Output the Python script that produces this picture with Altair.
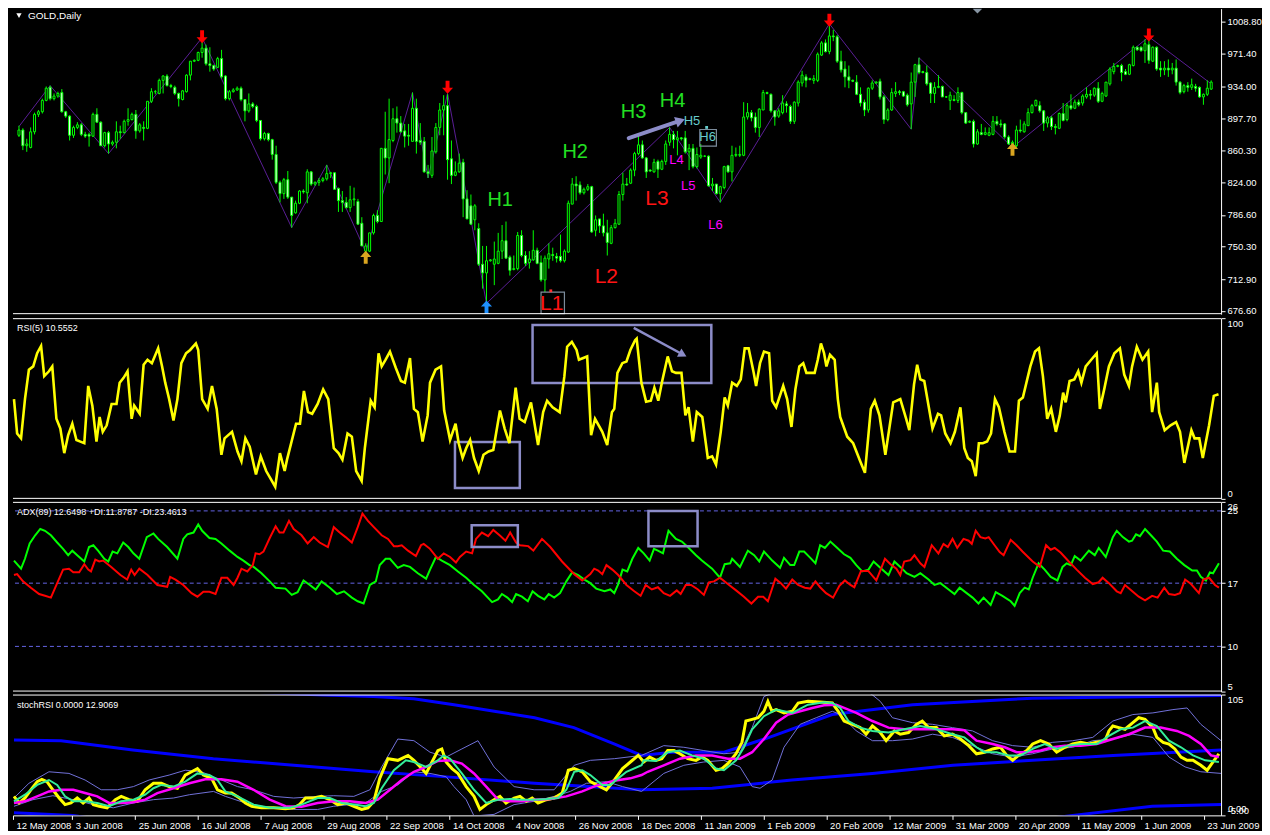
import altair as alt
import pandas as pd

# ---------------- labels / ticks ----------------
date_labels = ["12 May 2008", "3 Jun 2008", "25 Jun 2008", "16 Jul 2008", "7 Aug 2008",
               "29 Aug 2008", "22 Sep 2008", "14 Oct 2008", "4 Nov 2008", "26 Nov 2008",
               "18 Dec 2008", "11 Jan 2009", "1 Feb 2009", "20 Feb 2009", "12 Mar 2009",
               "31 Mar 2009", "20 Apr 2009", "11 May 2009", "1 Jun 2009", "23 Jun 2009"]
date_tick_bars = [-0.25, 14.85, 30.85, 46.85, 62.85, 78.85, 94.85, 110.85, 126.85, 142.85,
                  158.85, 174.85, 190.85, 206.85, 222.85, 238.85, 254.85, 270.85, 286.85, 302.85]
price_ticks = [676.6, 712.9, 750.3, 786.6, 824.0, 860.3, 897.7, 934.0, 971.4, 1008.8]
rsi_ticks = [0, 100]
adx_ticks = [5, 10, 17, 25, 26]
adx_levels = [25, 17, 10]
stoch_ticks = [-5, 105]

# ---------------- GOLD daily candles ----------------
O = [878,884,866,864,882,902,905,918,933,920,
     923,927,905,900,878,887,890,879,879,877,
     902,893,866,881,868,870,882,881,894,896,
     902,883,887,886,917,928,926,941,946,935,
     933,926,919,928,947,963,964,973,978,960,
     958,956,966,946,920,928,930,932,919,906,
     914,911,895,874,880,873,856,824,811,827,
     807,789,800,814,812,836,822,824,826,828,
     834,835,817,803,801,795,804,802,777,745,
     745,766,786,779,863,852,872,897,892,883,
     878,871,909,872,871,836,832,859,887,907,
     912,851,832,836,847,805,797,781,771,730,
     720,734,730,731,745,757,738,724,725,763,
     740,732,735,746,732,712,736,741,739,739,
     734,744,799,822,821,812,816,819,769,782,
     774,766,754,772,776,810,822,823,838,857,
     867,852,838,836,848,839,848,870,879,873,
     875,875,859,863,842,853,854,854,820,822,
     811,818,843,836,855,855,855,899,904,899,
     887,907,927,925,906,900,904,914,911,894,
     915,938,945,942,941,941,970,984,974,992,
     991,963,954,945,941,939,925,916,907,932,
     938,940,922,896,907,926,928,928,924,914,
     939,959,951,950,938,926,933,934,922,918,
     919,918,927,904,893,894,868,881,879,878,
     879,894,891,891,876,868,866,884,882,889,
     904,912,912,906,892,898,888,886,903,896,
     912,909,916,915,922,925,924,932,917,923,
     937,951,957,958,951,948,958,979,979,975,
     982,963,979,955,953,955,953,955,939,928,
     935,933,934,933,922,925,931]
H = [889,886,874,887,904,907,920,934,935,926,
     928,931,906,901,889,893,892,882,881,904,
     909,894,882,883,872,894,889,896,909,904,
     907,892,894,917,932,930,943,947,948,937,
     935,927,930,948,963,965,974,990,982,979,
     959,968,976,947,930,932,934,934,919,926,
     916,913,895,882,881,874,866,826,829,837,
     807,803,815,816,839,837,825,829,830,844,
     836,835,818,814,807,820,818,805,784,754,
     766,788,792,863,905,920,909,911,900,891,
     891,927,920,892,876,844,876,892,915,924,
     925,872,848,857,851,815,810,799,777,751,
     751,736,756,766,775,779,740,740,767,769,
     745,745,769,749,740,740,754,749,743,764,
     747,803,829,831,825,818,822,820,786,782,
     788,781,775,782,814,835,829,840,859,878,
     872,853,839,851,850,850,872,887,883,883,
     876,883,868,868,864,868,855,855,829,822,
     820,843,844,866,864,866,916,915,907,904,
     909,930,928,926,907,909,924,917,913,917,
     941,952,948,944,947,973,986,988,1006,999,
     993,975,963,958,942,947,933,919,933,941,
     940,943,924,909,932,939,930,929,926,950,
     960,967,952,958,939,939,947,935,923,928,
     924,933,928,904,895,896,885,891,887,887,
     900,900,896,892,878,872,889,896,894,909,
     914,919,917,907,900,900,891,904,915,915,
     925,919,919,925,933,930,933,939,928,939,
     956,961,959,960,954,960,981,980,980,988,
     991,980,980,963,963,965,961,965,940,937,
     939,943,937,934,926,941,941]
L = [876,861,859,863,879,899,903,917,918,918,
     921,904,898,872,875,885,877,875,865,876,
     892,866,864,857,866,863,874,880,889,895,
     874,881,872,885,915,925,925,926,934,932,
     924,911,918,927,941,962,963,967,958,951,
     952,955,943,918,918,927,929,917,894,904,
     909,893,872,872,871,850,822,801,805,805,
     772,788,799,811,800,820,820,820,824,826,
     829,816,790,790,794,790,797,775,751,744,
     744,764,777,779,833,823,870,881,881,864,
     866,871,857,867,835,829,829,857,878,878,
     827,822,831,835,784,782,775,769,728,702,
     685,733,706,730,736,736,717,723,723,738,
     728,725,734,730,710,698,725,734,732,732,
     732,743,799,803,810,810,814,766,762,766,
     762,740,753,771,775,803,820,822,831,855,
     851,829,836,835,829,838,844,866,863,855,
     872,857,838,840,840,851,853,819,814,810,
     801,816,835,825,853,853,854,896,894,881,
     876,907,925,904,889,898,902,904,891,891,
     911,934,933,941,937,939,969,973,971,986,
     961,950,933,932,939,924,911,900,904,930,
     937,919,891,894,906,922,924,922,911,885,
     922,948,949,935,915,915,932,922,921,907,
     917,915,902,891,892,864,867,878,878,877,
     878,889,887,874,867,864,864,881,881,889,
     903,911,904,883,887,884,879,885,894,894,
     907,908,911,912,920,919,922,915,916,922,
     935,948,956,940,947,947,957,975,974,961,
     960,962,952,945,947,945,948,935,925,926,
     928,930,928,921,913,923,930]
C = [884,866,868,882,902,905,918,932,920,923,
     926,905,900,878,887,890,879,877,877,902,
     893,866,881,868,870,882,881,894,896,902,
     883,890,886,917,928,928,941,946,935,934,
     926,920,929,947,963,964,973,978,960,958,
     954,966,945,920,928,930,932,919,906,914,
     911,895,874,880,873,856,824,811,827,807,
     786,800,814,813,836,822,824,826,828,834,
     835,816,803,801,795,804,805,776,751,751,
     766,786,779,863,852,873,897,892,882,877,
     877,909,871,870,836,834,860,887,907,912,
     850,832,836,846,805,782,776,797,730,720,
     734,735,736,745,757,737,723,725,763,740,
     731,736,746,731,712,737,742,740,737,734,
     745,800,822,820,812,816,819,767,781,774,
     766,755,772,777,810,822,821,838,857,867,
     852,836,837,847,839,848,868,879,873,875,
     874,859,863,842,856,855,854,820,822,811,
     819,842,836,855,856,856,899,904,898,887,
     908,927,926,906,899,906,915,912,894,916,
     939,947,941,943,943,971,984,974,992,991,
     963,953,945,941,940,925,915,907,932,938,
     939,922,896,907,927,928,927,923,913,939,
     959,950,950,937,926,933,934,922,922,924,
     918,927,904,892,894,868,882,879,881,881,
     894,891,890,876,868,870,884,883,891,904,
     912,918,906,892,898,888,887,903,895,912,
     909,916,913,923,925,924,932,917,926,939,
     954,957,958,950,948,959,979,976,975,983,
     964,979,954,953,955,953,955,939,927,935,
     933,936,932,922,925,932,939]

# zigzag swing points
zz_bar = [0, 8, 23, 47, 70, 79, 89, 101, 105, 110, 120, 167, 180, 208, 229, 231, 255, 290, 306]
zz_price = [888, 935, 857, 990, 772, 844, 744, 927, 829, 926, 685, 887, 801, 1006, 885, 967, 864, 991, 937]

# signal arrows
arr_bar = [47, 110, 208, 290, 89, 255, 120]
arr_price = [991, 933, 1010, 993, 738, 862, 681]
arr_dir = ["down", "down", "down", "down", "up", "up", "up"]
arr_color = ["#FF0000", "#FF0000", "#FF0000", "#FF0000", "#DAA520", "#DAA520", "#1E90FF"]

# text annotations
ann_text = ["H1", "H2", "H3", "H4", "L1", "L2", "L3", "H5", "H6", "L4", "L5", "L6"]
ann_bar = [123.5, 142.75, 157.75, 167.75, 136.75, 150.75, 163.75, 172.75, 176.75, 168.75, 171.75, 178.75]
ann_price = [804.1, 858.9, 904.8, 917.1, 684.4, 715.8, 805.2, 894.7, 875.7, 850.0, 819.8, 775.0]
ann_color = ["#22E022"] * 4 + ["#FF1414"] * 3 + ["#66CCCC"] * 2 + ["#FF00FF"] * 3
ann_size = [20, 20, 20, 20, 21, 21, 21, 13, 13, 13, 13, 13]

# RSI(5)
rsi_bar = [0, 0.8, 1.8, 2.8, 3.8, 4.9, 5.9, 6.9, 7.7, 8.9, 9.75, 10.8, 11.8, 12.8, 13.8, 14.85, 15.9, 16.9,
           17.9, 18.9, 19.95, 21.0, 21.8, 22.6, 23.6, 24.85, 26.1, 26.9, 27.9, 28.9, 29.95, 30.6, 32.0, 33.0,
           34.0, 35.1, 36.7, 37.7, 38.5, 39.5, 40.6, 41.6, 42.6, 43.8, 44.85, 46.3, 46.9, 47.9, 49.3, 50.4,
           51.6, 52.8, 53.6, 55.5, 56.9, 57.9, 58.9, 60.0, 61.6, 62.8, 64.2, 66.5, 67.7, 68.9, 69.5, 71.8,
           72.8, 73.8, 74.85, 75.9, 77.3, 78.7, 80.0, 81.4, 82.6, 83.6, 84.9, 86.0, 87.1, 88.5, 89.3, 90.8,
           91.8, 92.8, 93.6, 94.6, 95.7, 97.2, 98.5, 99.5, 100.8, 101.8, 102.8, 104.0, 105.3, 105.9, 107.3,
           108.7, 109.5, 111.0, 112.4, 113.2, 114.2, 115.1, 116.1, 117.1, 118.3, 119.5, 120.8, 122.0, 123.7,
           124.9, 126.1, 127.7, 128.7, 130.0, 131.6, 133.4, 134.7, 135.7, 137.1, 138.9, 140.1, 140.8, 142.0,
           143.2, 143.8, 145.9, 146.9, 147.9, 149.75, 151.0, 152.2, 152.8, 153.6, 154.85, 155.9, 156.9,
           158.1, 158.5, 159.7, 160.9, 162.1, 163.0, 164.0, 165.0, 166.4, 167.5, 168.5, 169.9, 170.9, 171.7,
           172.8, 173.8, 175.2, 176.6, 177.7, 178.7, 179.9, 180.9, 181.7, 182.8, 184.0, 185.0, 186.0, 187.0,
           188.3, 188.9, 189.9, 190.9, 192.2, 193.0, 194.0, 195.8, 196.8, 197.9, 198.9, 199.9, 200.9, 201.7,
           203.8, 204.6, 205.4, 206.2, 206.8, 207.7, 208.9, 209.7, 210.3, 212.1, 213.6, 215.4, 216.6, 218.1,
           219.1, 220.3, 221.8, 223.8, 225.6, 227.1, 227.9, 229.1, 229.9, 230.7, 231.7, 233.8, 235.2, 236.0,
           237.05, 238.4, 239.5, 240.9, 241.9, 242.8, 243.8, 244.8, 245.6, 246.6, 247.7, 248.7, 249.7, 250.7,
           252.1, 253.4, 254.8, 255.8, 256.8, 258.7, 259.9, 260.9, 261.9, 263.0, 264.0, 265.2, 266.2, 267.05,
           267.7, 268.7, 269.9, 270.9, 271.7, 272.8, 274.2, 275.6, 276.4, 277.5, 278.7, 280.1, 281.5, 282.6,
           283.8, 284.6, 285.8, 287.25, 288.7, 289.7, 290.9, 291.5, 292.9, 294.4, 295.8, 296.8, 297.9, 299.7,
           300.5, 301.7, 302.6, 304.2, 305.4, 306.6]
rsi_val = [55.2, 36.2, 33.5, 55.2, 71.5, 73.3, 80.6, 84.6, 67.9, 70.6, 73.3, 44.3, 38.9, 25.3, 35.3, 41.6, 32.6, 31.7,
           30.8, 62.5, 51.6, 31.7, 45.3, 37.1, 40.7, 52.5, 52.5, 64.3, 67.0, 70.6, 44.3, 51.6, 47.1, 74.2,
           77.0, 75.1, 83.3, 73.3, 64.3, 55.2, 43.4, 55.2, 75.1, 80.6, 82.4, 86.0, 82.4, 55.2, 49.8, 62.5,
           49.8, 24.4, 33.5, 37.1, 26.2, 20.8, 33.5, 28.9, 13.5, 23.5, 15.4, 6.7, 25.3, 15.4, 21.7, 41.6,
           41.6, 59.7, 48.0, 47.1, 52.5, 60.6, 55.2, 28.0, 25.3, 21.7, 36.2, 34.4, 15.4, 9.9, 28.0, 54.3,
           50.7, 80.6, 73.3, 77.0, 81.5, 72.4, 65.2, 64.3, 77.9, 49.8, 48.0, 31.7, 46.2, 64.3, 71.5,
           73.3, 48.9, 32.6, 41.6, 30.8, 22.6, 28.0, 32.6, 22.6, 15.4, 24.4, 26.2, 27.1, 48.9,
           38.9, 30.8, 61.5, 44.3, 42.5, 53.4, 29.8, 48.0, 54.3, 50.7, 48.0, 67.9, 84.2, 86.9,
           82.4, 77.0, 78.8, 35.3, 44.3, 37.1, 29.8, 48.0, 49.8, 69.7, 75.1, 76.0, 82.4,
           87.8, 88.7, 64.3, 53.8, 54.3, 61.5, 54.3, 65.2, 78.8, 70.6, 69.7, 69.7, 46.2, 50.7,
           31.7, 48.0, 45.3, 22.6, 23.5, 19.0, 37.1, 56.1, 51.6, 64.3, 62.5, 66.1, 83.3, 83.3,
           69.7, 62.5, 75.1, 81.5, 80.6, 54.3, 50.7, 62.5, 55.2, 39.8, 60.6, 73.3, 75.1, 69.7,
           69.7, 77.0, 86.0, 80.6, 73.3, 79.7, 77.0, 55.2, 45.3, 34.4, 30.8, 20.8, 14.4, 49.8,
           54.3, 46.2, 24.4, 53.4, 55.2, 44.3, 38.0, 63.4, 74.2, 66.1, 65.2, 38.9, 47.1, 46.2,
           36.2, 30.8, 37.1, 50.7, 28.0, 22.6, 20.8, 12.6, 30.8, 30.8, 31.7, 36.2, 55.2, 50.7,
           37.1, 26.2, 26.2, 54.3, 56.1, 73.3, 81.5, 83.3, 67.9, 44.3, 49.8, 37.1, 46.2, 58.8,
           53.4, 65.2, 66.1, 70.6, 64.3, 73.3, 77.0, 80.6, 49.8, 60.6, 73.3, 80.6, 83.3, 68.8,
           62.5, 73.3, 84.2, 77.0, 81.5, 48.0, 64.3, 48.0, 38.0, 40.7, 42.5, 37.1, 19.9, 38.0,
           33.5, 33.5, 22.6, 40.7, 57.0, 57.9]

# ADX(89) +DI (green) and -DI (red)
pdi_bar = [0, 1.8, 2.8, 4.0, 5.4, 6.7, 7.9, 9.4, 11.0, 12.5, 13.8, 14.85, 16.1, 17.9, 19.1, 20.2, 21.4, 23.0,
           24.0, 25.1, 26.3, 27.8, 29.1, 30.4, 31.9, 33.8, 35.5, 36.7, 39.0, 41.6, 43.1, 44.1, 45.7, 46.9,
           47.9, 49.75, 51.3, 52.8, 54.9, 56.9, 58.4, 59.95, 61.0, 63.0, 65.1, 66.6, 69.1, 70.7, 72.2, 73.7,
           75.3, 76.8, 78.3, 80.4, 82.2, 84.0, 86.0, 87.5, 89.0, 90.6, 92.1, 93.1, 94.6, 95.7, 97.7, 99.2,
           100.8, 102.8, 104.9, 105.9, 107.4, 108.9, 111.0, 113.0, 115.1, 117.1, 119.1, 121.7, 123.2, 124.2,
           125.6, 126.8, 127.8, 129.3, 130.8, 132.0, 133.4, 135.0, 136.1, 137.5, 139.0, 140.6, 142.1, 143.6,
           145.2, 146.7, 148.2, 150.3, 151.8, 152.8, 153.8, 154.9, 156.1, 157.4, 158.9, 160.3, 161.8, 162.9,
           163.9, 165.2, 166.6, 168.5, 170.0, 171.5, 173.6, 175.1, 177.7, 179.7, 180.9, 182.3, 182.8, 184.8,
           186.8, 188.4, 189.7, 190.9, 193.0, 195.0, 196.0, 197.6, 198.6, 199.9, 201.1, 202.7, 204.0, 205.2,
           206.4, 207.8, 209.3, 211.3, 212.9, 214.4, 215.9, 217.5, 218.8, 220.5, 222.6, 224.1, 225.6, 227.2,
           229.2, 230.7, 232.8, 234.3, 235.8, 237.9, 239.4, 240.7, 242.5, 244.0, 245.5, 246.8, 248.6, 249.9,
           251.6, 253.7, 254.7, 256.0, 257.25, 258.3, 259.3, 260.8, 262.35, 263.9, 265.6, 266.9, 267.95,
           269.0, 270.0, 271.5, 273.6, 275.1, 276.1, 277.9, 279.7, 280.7, 282.25, 283.8, 284.6, 285.6, 286.6,
           287.9, 289.4, 290.9, 292.5, 294.2, 296.0, 297.9, 299.9, 301.1, 302.1, 303.4, 304.4, 305.2, 306.7]
pdi_val = [19.5, 18.6, 19.7, 21.4, 22.3, 23.0, 22.8, 22.3, 21.5, 20.8, 20.1, 20.6, 20.1, 19.4, 21.0, 21.2, 20.6, 19.7,
           19.4, 20.5, 20.3, 21.5, 21.0, 20.3, 19.7, 22.1, 22.5, 21.9, 21.0, 19.7, 21.9, 22.4, 22.6, 23.5,
           22.8, 22.0, 21.9, 21.4, 20.6, 19.9, 19.5, 19.0, 18.8, 18.1, 17.2, 16.5, 16.4, 15.7, 16.0, 17.3,
           16.8, 16.3, 17.2, 16.5, 15.8, 16.1, 15.4, 15.0, 14.75, 16.8, 17.2, 19.0, 19.7, 19.7, 18.7, 19.0,
           18.8, 18.1, 17.5, 18.5, 19.9, 19.5, 19.0, 18.3, 17.6, 16.8, 16.1, 14.9, 15.2, 15.8,
           15.4, 14.9, 15.8, 15.5, 15.0, 16.1, 15.6, 15.2, 15.8, 15.4, 15.9, 17.2, 18.2, 17.9,
           17.4, 17.0, 16.4, 16.1, 16.3, 15.9, 16.9, 18.5, 18.3, 19.7, 20.9, 20.3, 19.5, 20.8,
           20.6, 20.3, 22.8, 21.9, 21.6, 21.0, 20.1, 19.5, 18.6, 17.6, 19.1, 19.2, 19.7, 18.8,
           20.6, 20.1, 19.4, 20.5, 19.5, 18.7, 19.8, 19.0, 19.0, 20.5, 20.5, 19.8, 19.2, 21.2,
           20.9, 21.6, 21.0, 20.2, 19.8, 19.0, 18.3, 18.5, 19.4, 18.7, 17.9, 19.4, 18.8, 18.1,
           17.7, 18.1, 17.4, 16.8, 17.0, 16.3, 15.8, 16.5, 15.9, 15.4, 14.75, 15.4, 14.6, 16.0,
           15.6, 15.0, 14.5, 15.9, 16.5, 16.3, 17.6, 19.2, 18.5, 17.7, 17.3, 18.8, 19.2,
           19.0, 20.0, 19.5, 20.6, 20.1, 20.9, 19.9, 22.1, 22.8, 22.1, 21.6, 21.7, 22.4, 22.2,
           23.0, 22.3, 21.6, 20.6, 20.5, 19.7, 19.0, 18.4, 18.4, 17.7, 17.3, 18.2, 18.1, 19.2]
mdi_bar = [0, 0.8, 2.3, 4.3, 6.4, 7.9, 9.4, 11.0, 12.5, 14.0, 15.1, 16.6, 17.9, 18.9, 19.6, 20.7, 21.7, 22.7,
           24.75, 27.1, 28.8, 29.85, 30.7, 31.9, 34.0, 36.5, 39.0, 39.75, 41.1, 43.1, 45.2, 46.7, 48.2, 49.75,
           51.3, 52.8, 54.3, 55.9, 56.9, 57.9, 59.4, 60.8, 61.5, 62.5, 63.5, 65.1, 66.6, 67.6, 68.6, 70.0,
           71.2, 73.2, 74.75, 76.3, 77.8, 79.9, 81.4, 82.9, 84.4, 86.0, 87.5, 88.7, 90.1, 91.6, 93.6, 95.2,
           96.7, 97.7, 98.7, 100.3, 102.3, 103.6, 104.3, 105.9, 107.9, 109.4, 111.0, 112.5, 113.5, 115.1,
           116.6, 117.6, 119.1, 120.7, 122.0, 123.75, 125.1, 126.3, 127.8, 128.8, 130.9, 132.2, 134.4, 136.5,
           139.5, 142.6, 144.65, 146.7, 147.7, 148.7, 149.75, 150.8, 152.3, 153.8, 155.9, 157.9, 159.5, 160.8,
           162.35, 163.9, 165.4, 167.0, 168.7, 169.7, 171.0, 172.35, 174.1, 175.6, 176.9, 178.2, 179.7, 181.7,
           183.8, 185.8, 187.7, 189.4, 190.7, 191.9, 193.8, 195.2, 196.5, 198.1, 199.6, 201.3, 202.7, 204.0,
           205.2, 206.7, 208.5, 210.1, 211.5, 212.9, 213.9, 215.6, 217.45, 219.5, 220.7, 221.7, 223.1, 224.6,
           225.6, 226.6, 228.2, 229.2, 230.7, 231.75, 233.6, 235.3, 236.6, 237.7, 238.9, 240.1, 241.7, 243.0,
           243.8, 244.8, 246.0, 247.25, 248.1, 249.6, 250.9, 251.9, 253.7, 255.2, 256.7, 259.3, 261.1, 262.7,
           263.9, 264.9, 266.4, 268.5, 270.5, 272.6, 274.6, 276.1, 277.1, 278.7, 280.7, 281.7, 282.8, 284.8,
           286.3, 287.9, 289.7, 291.1, 292.8, 294.0, 295.5, 296.8, 298.1, 299.6, 301.6, 302.7, 304.2, 305.7,
           306.7]
mdi_val = [17.9, 18.0, 17.2, 16.5, 15.8, 15.6, 15.4, 17.0, 18.5, 18.6, 18.2, 18.2, 19.1, 18.5, 18.3, 19.6, 19.4, 19.5,
           18.8, 17.9, 17.4, 18.5, 17.9, 18.6, 17.9, 16.8, 16.6, 17.7, 17.4, 16.8, 15.9, 15.5, 16.05, 16.05,
           15.8, 17.6, 17.6, 16.8, 17.6, 18.6, 18.3, 19.0, 20.3, 20.2, 20.5, 22.0, 23.3, 22.6, 22.6, 23.9,
           23.0, 22.3, 21.4, 22.1, 21.5, 21.0, 23.2, 22.6, 22.1, 21.5, 23.2, 24.7, 23.9, 23.2, 22.3, 21.9,
           21.1, 21.1, 21.2, 20.6, 20.0, 21.2, 21.35, 20.8, 19.7, 20.3, 19.9, 19.3, 19.9, 20.5,
           20.3, 21.9, 22.6, 22.2, 22.9, 22.25, 21.7, 22.6, 21.5, 21.2, 21.1, 20.6, 21.9, 21.0,
           19.4, 18.0, 17.3, 18.0, 18.6, 18.4, 18.0, 19.0, 18.5, 17.9, 16.8, 16.1, 15.6, 16.8,
           16.3, 16.55, 15.9, 15.6, 16.2, 15.8, 16.8, 16.8, 16.3, 15.7, 17.1, 17.2, 17.6, 16.9,
           16.2, 15.5, 14.75, 15.5, 15.5, 15.0, 17.5, 17.0, 16.4, 17.4, 16.8, 16.5, 16.4, 17.2,
           16.55, 15.9, 15.4, 16.7, 17.3, 16.8, 16.55, 18.35, 18.35, 17.3, 18.6, 19.7, 19.1, 18.6,
           17.9, 19.4, 19.55, 20.1, 19.2, 18.8, 21.2, 20.3, 21.35, 21.0, 21.9, 20.9, 21.9, 21.7,
           21.35, 22.8, 22.1, 21.96, 22.1, 21.2, 20.45, 20.1, 21.8, 21.2, 20.5, 19.4, 18.8, 21.2,
           20.7, 20.9, 20.4, 19.4, 18.5, 17.6, 16.9, 17.1, 17.6, 17.0, 16.1, 15.9, 16.8, 16.05,
           15.5, 15.1, 15.6, 15.4, 16.5, 15.8, 15.7, 15.9, 17.4, 16.9, 15.9, 17.4, 17.6, 16.8,
           16.5]

# stochRSI panel: K (yellow), signal (green), slow (magenta)
sk_bar = [0, 1.3, 2.8, 4.3, 5.9, 7.1, 8.4, 9.9, 11.5, 13.0, 14.5, 16.1, 17.6, 19.1, 20.2, 21.7, 23.7, 25.8, 27.3,
          29.3, 31.4, 33.4, 35.5, 37.5, 39.5, 41.6, 43.6, 45.2, 46.7, 48.2, 50.3, 51.8, 53.8, 55.4, 57.4, 58.9,
          60.5, 63.0, 66.1, 69.1, 71.2, 72.7, 74.2, 76.3, 78.3, 80.4, 82.4, 84.4, 86.5, 88.5, 90.1, 91.6, 93.1,
          95.2, 97.7, 100.3, 101.8, 103.8, 104.9, 106.4, 107.9, 108.9, 110.0, 111.5, 113.0, 115.1, 117.1,
          118.6, 120.2, 122.2, 123.7, 125.25, 127.3, 128.8, 130.4, 131.9, 133.4, 135.5, 137.5, 139.55, 141.1,
          142.6, 144.65, 146.7, 149.2, 150.8, 152.8, 154.9, 156.9, 158.9, 160.3, 161.8, 163.4, 164.9, 166.4,
          168.0, 169.5, 171.5, 173.6, 175.1, 176.6, 178.7, 180.2, 181.7, 183.8, 185.3, 186.3, 187.9, 189.4,
          190.9, 191.9, 192.95, 194.0, 196.0, 198.1, 199.6, 202.1, 205.2, 208.3, 209.8, 211.3, 213.4, 215.4,
          216.9, 218.5, 220.5, 222.0, 224.1, 225.6, 227.7, 229.7, 231.2, 232.8, 234.8, 236.8, 238.9, 240.9,
          243.0, 245.0, 247.05, 249.1, 251.1, 252.7, 254.2, 255.7, 257.8, 259.3, 261.3, 263.4, 265.4, 267.5,
          269.5, 271.5, 273.6, 275.6, 277.7, 278.7, 279.7, 281.25, 282.8, 284.8, 286.3, 287.9, 289.9, 290.9,
          292.5, 294.0, 295.5, 297.05, 298.6, 300.1, 302.1, 303.7, 305.2, 306.7]
sk_val = [12.3, 6.3, 10.8, 18.3, 25.7, 27.8, 25.7, 18.3, 10.8, 4.8, 6.3, 10.8, 6.3, 10.8, 4.8, 3.3, 1.9, 9.3, 12.3,
          9.3, 7.8, 18.3, 24.2, 24.2, 21.2, 19.7, 31.7, 34.7, 37.6, 31.7, 28.7, 18.3, 15.3, 15.3, 10.8, 6.3,
          3.3, 1.9, 1.9, 1.0, 1.9, 4.8, 10.8, 10.8, 12.3, 9.3, 4.8, 6.3, 3.3, 0.4, 1.9, 7.8, 28.7,
          46.6, 45.1, 49.6, 45.1, 37.6, 33.2, 43.6, 54.0, 55.5, 43.6, 37.6, 33.2, 21.2, 12.3,
          0.4, 4.8, 9.3, 12.3, 6.3, 10.8, 12.3, 7.8, 10.8, 6.3, 9.3, 10.8, 15.3, 36.1,
          37.6, 34.7, 25.7, 21.2, 18.3, 27.2, 37.6, 43.6, 49.6, 43.6, 48.1, 45.1, 46.6, 54.0,
          54.0, 51.1, 46.6, 45.1, 48.1, 45.1, 36.1, 37.6, 42.1, 51.1, 61.5, 80.9, 82.4, 83.9,
          89.8, 98.8, 89.8, 91.3, 88.3, 89.8, 97.3, 98.8, 98.2, 97.3, 89.8, 80.9, 77.9, 74.9,
          68.9, 76.4, 70.4, 63.0, 71.9, 68.9, 70.4, 77.9, 80.9, 74.9, 74.9, 67.4, 68.9, 64.5,
          58.5, 51.1, 52.5, 55.5, 57.0, 49.6, 45.1, 49.6, 54.0, 60.0, 63.0, 60.0, 52.5, 57.0,
          60.0, 61.5, 60.0, 61.5, 63.0, 71.9, 76.4, 74.9, 73.4, 79.4, 83.9, 82.4, 74.9, 66.0,
          61.5, 60.0, 55.5, 48.1, 45.1, 45.1, 40.6, 36.1, 43.6, 51.1]
sg_bar = [0, 2.8, 5.9, 8.9, 11.0, 13.0, 15.1, 18.1, 21.2, 24.2, 27.3, 30.4, 33.4, 35.5, 37.5, 40.6, 43.6, 46.7,
          49.75, 51.8, 53.8, 56.9, 61.0, 65.1, 70.2, 73.2, 77.3, 80.4, 83.4, 86.5, 89.5, 91.6, 93.6, 96.7,
          99.75, 101.8, 104.9, 107.9, 109.4, 111.0, 114.0, 117.1, 120.2, 123.2, 126.3, 129.3, 132.4, 135.5,
          138.5, 140.6, 142.6, 144.65, 146.7, 149.75, 151.8, 153.8, 155.9, 159.75, 160.3, 163.4, 166.4, 169.5,
          172.6, 175.6, 178.7, 180.7, 183.8, 185.8, 187.9, 190.9, 194.0, 198.1, 202.1, 206.2, 208.3, 210.3,
          212.4, 215.4, 218.5, 222.6, 226.6, 230.7, 234.8, 238.9, 241.9, 245.0, 247.05, 250.1, 253.2, 256.2,
          259.3, 262.35, 265.4, 268.5, 271.5, 275.6, 278.7, 281.7, 284.8, 287.9, 290.9, 294.0, 297.05, 300.1,
          303.2, 306.7]
sg_val = [7.8, 13.8, 22.7, 27.2, 22.7, 12.3, 7.8, 7.8, 6.3, 3.3, 7.8, 9.3, 13.8, 19.7, 22.7, 21.2, 25.7, 33.2,
          31.7, 27.2, 16.8, 12.3, 4.8, 1.9, 1.9, 4.8, 10.8, 10.8, 6.3, 4.8, 3.3, 6.3, 19.7, 36.1,
          45.1, 43.6, 39.1, 45.1, 49.6, 46.6, 33.2, 18.3, 6.3, 9.3, 9.9, 9.3, 9.3, 9.9,
          10.8, 18.3, 34.7, 36.1, 31.7, 22.7, 22.7, 28.7, 34.7, 40.6, 45.1, 44.5, 52.5, 54.0,
          49.6, 46.6, 37.6, 36.1, 45.1, 57.0, 73.4, 85.3, 91.3, 88.3, 95.8, 97.9, 97.3, 92.8,
          80.9, 74.9, 71.9, 70.4, 73.4, 76.4, 73.4, 68.9, 66.0, 57.0, 52.5, 52.5, 49.6, 49.6,
          55.5, 60.0, 55.5, 58.5, 60.0, 60.0, 67.4, 73.4, 74.9, 80.9, 76.4, 63.0, 57.0, 49.6,
          45.1, 43.6]
sm_bar = [0, 2.8, 5.9, 8.9, 12.0, 15.1, 18.1, 21.2, 24.2, 27.3, 30.4, 33.4, 36.5, 40.6, 44.65, 48.7, 52.8, 56.9,
          61.0, 65.1, 69.1, 73.2, 77.3, 81.4, 85.5, 89.5, 92.6, 95.7, 98.7, 101.8, 104.9, 107.9, 111.0, 114.0,
          117.1, 120.2, 123.2, 126.3, 129.3, 132.4, 136.5, 140.6, 144.65, 148.7, 152.8, 156.9, 159.75, 161.3,
          165.4, 169.5, 173.6, 177.7, 181.7, 184.8, 187.9, 190.9, 194.0, 197.05, 200.1, 203.2, 206.2, 209.3,
          211.3, 214.4, 218.5, 222.6, 226.6, 230.7, 234.8, 238.9, 241.9, 245.0, 249.1, 252.2, 255.2, 258.3,
          261.3, 264.4, 267.5, 271.5, 275.6, 279.7, 283.8, 287.9, 291.9, 296.0, 299.1, 302.1, 304.7, 306.7]
sm_val = [6.3, 7.8, 12.3, 16.8, 18.3, 18.3, 15.3, 12.3, 6.3, 6.3, 6.9, 9.3, 15.3, 19.7, 24.2, 27.8, 27.8, 25.7,
          18.3, 9.3, 3.3, 2.8, 6.3, 7.8, 7.8, 6.3, 9.3, 18.3, 27.2, 34.7, 39.1, 44.5, 45.1, 42.1,
          33.2, 21.2, 9.3, 7.8, 7.8, 9.3, 9.9, 12.3, 16.8, 22.7, 26.6, 28.7, 31.7, 34.7,
          40.6, 46.6, 49.6, 49.6, 46.6, 46.6, 52.5, 64.5, 79.4, 86.8, 89.8, 92.8, 95.2, 95.8,
          92.8, 88.3, 80.9, 74.9, 73.4, 73.4, 73.4, 73.4, 72.5, 63.0, 60.0, 57.0, 52.5, 52.5,
          54.0, 57.0, 58.5, 58.5, 60.0, 64.5, 68.9, 74.9, 74.9, 71.9, 67.4, 60.0, 49.6, 48.1]

# short bands (thin) and long bands (thick blue)
bu_bar = [0, 3.8, 8.9, 14.0, 18.1, 22.2, 26.3, 30.4, 34.4, 39.5, 43.6, 47.7, 51.8, 56.9, 61.0, 66.1, 71.2, 77.3,
          81.4, 86.5, 90.6, 93.6, 97.7, 101.8, 105.9, 110.0, 114.0, 118.1, 122.2, 127.3, 132.4, 137.5, 142.6,
          146.7, 152.8, 159.75, 165.4, 170.5, 175.6, 180.7, 184.8, 187.9, 190.9, 194.0, 197.05, 214.4, 218.5,
          220.5, 223.6, 228.7, 233.8, 238.9, 244.0, 249.1, 254.2, 259.3, 264.4, 269.5, 274.6, 279.7, 284.8,
          289.9, 295.0, 298.6, 302.1, 307.25]
bu_val = [10.8, 24.2, 34.7, 33.2, 27.2, 18.3, 18.3, 21.2, 27.2, 31.7, 36.1, 34.7, 28.7, 21.2, 18.3, 12.3, 10.8, 12.3,
          12.9, 12.3, 18.3, 39.1, 64.5, 63.0, 52.5, 48.1, 55.5, 63.0, 39.1, 21.2, 18.3, 18.3, 40.6,
          45.1, 46.6, 49.6, 58.5, 57.0, 54.0, 51.1, 52.5, 74.9, 103.2, 107.7, 114.0, 114.0, 104.7,
          98.8, 83.9, 79.4, 77.9, 74.9, 71.9, 63.0, 58.5, 57.0, 61.5, 63.0, 66.0, 80.9, 86.8,
          88.3, 91.3, 92.8, 77.9, 63.0]
bl_bar = [0, 4.85, 9.9, 15.1, 20.2, 25.3, 30.4, 35.5, 40.6, 44.65, 50.8, 53.8, 58.9, 65.1, 71.2, 77.3, 81.4, 85.5,
          89.5, 93.6, 97.7, 101.8, 105.9, 110.0, 112.0, 115.1, 117.1, 122.2, 127.3, 132.4, 137.5, 141.6, 145.7,
          150.8, 154.9, 159.75, 165.4, 170.5, 175.6, 180.7, 184.8, 187.9, 189.9, 193.0, 196.0, 200.1, 204.2,
          208.3, 210.3, 214.4, 218.5, 223.6, 228.7, 233.8, 238.9, 244.0, 249.1, 254.2, 259.3, 264.4, 269.5,
          274.6, 279.7, 284.8, 289.9, 294.0, 298.1, 302.1, 307.25]
bl_val = [3.3, 9.3, 12.9, 9.3, 4.8, 1.9, 6.3, 9.3, 10.8, 13.8, 16.8, 12.3, 6.3, 1.9, 0.4, 0.4, 3.3, 4.8,
          6.3, 16.8, 22.7, 34.7, 33.2, 30.2, 21.2, 9.3, -5.6, -4.1, 4.8, 7.8, 12.3, 16.8, 24.2,
          25.7, 21.2, 16.8, 33.2, 40.6, 43.6, 45.1, 39.1, 21.2, 19.7, 27.2, 57.0, 77.9, 83.9,
          89.8, 86.8, 71.9, 63.0, 63.0, 64.5, 68.9, 66.0, 58.5, 51.1, 48.1, 51.1, 55.5, 57.0,
          63.0, 64.5, 68.9, 66.0, 48.1, 39.1, 34.7, 33.2]
lm_bar = [0, 12, 30.25, 50.75, 71.25, 91.5, 112, 132.5, 159.75, 177.75, 198, 218.5, 239, 259.25, 279.75, 307.25]
lm_val = [63.6, 63.0, 54.6, 46.6, 40.6, 34.7, 29.6, 24.2, 18.3, 19.7, 27.2, 33.2, 40.6, 45.1, 49.6, 54.6]
lu_bar = [0, 30, 55, 78.75, 91.5, 101.75, 112, 122.25, 132.5, 142.5, 152.75, 159.75, 167.5, 180.75, 191,
          208.25, 228.75, 259.25, 307.25]
lu_val = [130, 121, 108, 104.5, 103.2, 101.1, 95.8, 89.8, 83.9, 74.9, 60.0, 49.6, 52.5, 52.5, 64.5,
          86.8, 95.8, 101.7, 104.1]
ll_bar = [0, 15, 40, 150, 250, 269.5, 289.75, 307.25]
ll_val = [-2.6, -5.2, -18, -30, -14, -5.0, 3.3, 4.8]

# annotation boxes / arrows (data coordinates)
pbox_x = [134, 174.75]
pbox_x2 = [140, 179]
pbox_y = [697.9, 884.6]
pbox_y2 = [673.3, 865.6]
rbox_x = [112.25, 132]
rbox_x2 = [128.75, 177.5]
rbox_y = [31.5, 96.2]
rbox_y2 = [6.0, 64.1]
abox_x = [116.5, 161.5]
abox_x2 = [128.25, 174]
abox_y = [23.4, 25.0]
abox_y2 = [21.0, 21.1]
parrow_bar = [156.5, 169.75]
parrow_price = [874.6, 894.7]
rarrow_bar = [157.75, 170.25]
rarrow_val = [94.6, 79.9]

# ---------------- layout ----------------
W = 1210
HP, HR, HA, HS = 306, 181, 190, 121
FONT = "Liberation Sans"
WHITE = "#FFFFFF"
LAV = "#8C8CC8"

xs = alt.Scale(domain=[-0.25, 307.25], nice=False, zero=False)


def X(f="bar:Q"):
    return alt.X(f, scale=xs, axis=None)


def yaxis(values, fmt=None, flush=False, expr=None):
    kw = dict(orient="right", values=values, title=None, grid=False, domainColor=WHITE,
              tickColor=WHITE, labelColor=WHITE, tickSize=4, labelPadding=2,
              labelFontSize=9.5, labelFont=FONT, labelFlush=flush, labelOverlap=False,
              domainWidth=1, tickWidth=1)
    if fmt:
        kw["format"] = fmt
    if expr:
        kw["labelExpr"] = expr
    return alt.Axis(**kw)


one = pd.DataFrame({"a": [0]})


def hrule(ypix):
    return alt.Chart(one).mark_rule(color=WHITE, strokeWidth=1).encode(
        x=alt.value(0), x2=alt.value(W), y=alt.value(ypix))


def label(txt, xp, yp, size=9, color=WHITE):
    return alt.Chart(pd.DataFrame({"t": [txt]})).mark_text(
        align="left", baseline="middle", fontSize=size, color=color, font=FONT).encode(
        x=alt.value(xp), y=alt.value(yp), text="t:N")


# ---------------- price panel ----------------
ps = alt.Scale(domain=[672.7, 1023.3], nice=False, zero=False)
pax = yaxis(price_ticks, fmt=".2f")


def PY(f):
    return alt.Y(f, scale=ps, axis=pax, title=None)


cdf = pd.DataFrame({"bar": list(range(len(C))), "open": O, "high": H, "low": L, "close": C})
cdf["fillc"] = ["#FFFFFF" if c < o else "#000000" for o, c in zip(O, C)]

zz = alt.Chart(pd.DataFrame({"bar": zz_bar, "p": zz_price})).mark_line(
    color="#5A1E96", strokeWidth=1).encode(x=X(), y=PY("p:Q"))
wick = alt.Chart(cdf).mark_rule(color="#00FF00", strokeWidth=1).encode(
    x=X(), y=PY("low:Q"), y2="high:Q")
body = alt.Chart(cdf).mark_bar(size=2, stroke="#00FF00", strokeWidth=1).encode(
    x=X(), y=PY("open:Q"), y2="close:Q", fill=alt.Fill("fillc:N", scale=None))

adf = pd.DataFrame({"bar": arr_bar, "p": arr_price, "d": arr_dir, "c": arr_color})
down_path = "M-0.3,-1L0.3,-1L0.3,0.05L0.85,0.05L0,1L-0.85,0.05L-0.3,0.05Z"
up_path = "M-0.3,1L0.3,1L0.3,-0.05L0.85,-0.05L0,-1L-0.85,-0.05L-0.3,-0.05Z"
arr_dn = alt.Chart(adf[adf.d == "down"]).mark_point(shape=down_path, filled=True, size=170, opacity=1).encode(
    x=X(), y=PY("p:Q"), color=alt.Color("c:N", scale=None))
arr_up = alt.Chart(adf[adf.d == "up"]).mark_point(shape=up_path, filled=True, size=170, opacity=1).encode(
    x=X(), y=PY("p:Q"), color=alt.Color("c:N", scale=None))

tdf = pd.DataFrame({"bar": ann_bar, "p": ann_price, "t": ann_text, "c": ann_color, "s": ann_size})
ann = alt.Chart(tdf).mark_text(font=FONT, align="center", baseline="middle").encode(
    x=X(), y=PY("p:Q"), text="t:N", color=alt.Color("c:N", scale=None), size=alt.Size("s:Q", scale=None))

pbox = alt.Chart(pd.DataFrame({"x": pbox_x, "x2": pbox_x2, "y": pbox_y, "y2": pbox_y2})).mark_rect(
    fillOpacity=0, stroke="#7C8C9C", strokeWidth=1.2).encode(
    x=X("x:Q"), x2="x2:Q", y=PY("y:Q"), y2="y2:Q")
pdots = alt.Chart(pd.DataFrame({"bar": [136.5, 176.5], "p": [699.5, 887.0], "c": ["#FF3030", "#66CCCC"]})).mark_square(
    size=8, opacity=1).encode(x=X(), y=PY("p:Q"), color=alt.Color("c:N", scale=None))
parr = alt.Chart(pd.DataFrame({"bar": parrow_bar, "p": parrow_price})).mark_line(
    color=LAV, strokeWidth=4, strokeCap="round").encode(x=X(), y=PY("p:Q"))
parr_head = alt.Chart(pd.DataFrame({"bar": parrow_bar[1:], "p": parrow_price[1:]})).mark_point(
    shape="triangle-right", filled=True, size=120, angle=341, color=LAV, opacity=1).encode(x=X(), y=PY("p:Q"))
diamond = alt.Chart(pd.DataFrame({"bar": [246], "p": [1023.3]})).mark_point(
    shape="diamond", filled=True, size=90, color="#8896A4", opacity=1, clip=True).encode(x=X(), y=PY("p:Q"))
gold_tri = alt.Chart(one).mark_point(shape="triangle-down", filled=True, size=28, color=WHITE, opacity=1).encode(
    x=alt.value(6), y=alt.value(7))

price = alt.layer(
    zz, wick, body, arr_dn, arr_up, pbox, pdots, ann, parr, parr_head, diamond,
    hrule(HP - 0.5), gold_tri, label("GOLD,Daily", 15, 7, size=10)
).properties(width=W, height=HP)

# ---------------- RSI panel ----------------
rs = alt.Scale(domain=[0, 100], nice=False, zero=False)
rax = yaxis(rsi_ticks, flush=True)
rsi_line = alt.Chart(pd.DataFrame({"bar": rsi_bar, "v": rsi_val})).mark_line(
    color="#FFFF00", strokeWidth=2.6).encode(x=X(), y=alt.Y("v:Q", scale=rs, axis=rax, title=None))
rbox = alt.Chart(pd.DataFrame({"x": rbox_x, "x2": rbox_x2, "y": rbox_y, "y2": rbox_y2})).mark_rect(
    fillOpacity=0, stroke=LAV, strokeWidth=2.5).encode(
    x=X("x:Q"), x2="x2:Q", y=alt.Y("y:Q", scale=rs, axis=rax, title=None), y2="y2:Q")
rarr = alt.Chart(pd.DataFrame({"bar": rarrow_bar, "v": rarrow_val})).mark_line(
    color=LAV, strokeWidth=2.5).encode(x=X(), y=alt.Y("v:Q", scale=rs, axis=rax, title=None))
rarr_head = alt.Chart(pd.DataFrame({"bar": rarrow_bar[1:], "v": rarrow_val[1:]})).mark_point(
    shape="triangle-right", filled=True, size=90, angle=28, color=LAV, opacity=1).encode(
    x=X(), y=alt.Y("v:Q", scale=rs, axis=rax, title=None))
rsi = alt.layer(
    rbox, rarr, rarr_head, rsi_line, hrule(0.5), hrule(HR - 0.5), label("RSI(5) 10.5552", 4, 10)
).properties(width=W, height=HR)

# ---------------- ADX panel ----------------
ads = alt.Scale(domain=[5, 26], nice=False, zero=False)
aax = yaxis(adx_ticks, flush=True)


def AY(f):
    return alt.Y(f, scale=ads, axis=aax, title=None)


levels = alt.Chart(pd.DataFrame({"v": adx_levels})).mark_rule(
    color="#6464E6", strokeWidth=1, strokeDash=[4, 3]).encode(y=AY("v:Q"))
pdi = alt.Chart(pd.DataFrame({"bar": pdi_bar, "v": pdi_val})).mark_line(
    color="#00FF00", strokeWidth=2).encode(x=X(), y=AY("v:Q"))
mdi = alt.Chart(pd.DataFrame({"bar": mdi_bar, "v": mdi_val})).mark_line(
    color="#FF0000", strokeWidth=2).encode(x=X(), y=AY("v:Q"))
abox = alt.Chart(pd.DataFrame({"x": abox_x, "x2": abox_x2, "y": abox_y, "y2": abox_y2})).mark_rect(
    fillOpacity=0, stroke=LAV, strokeWidth=2.5).encode(x=X("x:Q"), x2="x2:Q", y=AY("y:Q"), y2="y2:Q")
adx = alt.layer(
    levels, pdi, mdi, abox, hrule(0.5), hrule(HA - 0.5),
    label("ADX(89) 12.6498 +DI:11.8787 -DI:23.4613", 4, 10)
).properties(width=W, height=HA)

# ---------------- stochRSI panel ----------------
ss = alt.Scale(domain=[-5, 105], nice=False, zero=False)
date_expr = "[" + ",".join("'" + s + "'" for s in date_labels) + "][round((datum.value + 1.15) / 16)]"
xax = alt.Axis(values=date_tick_bars, labelExpr=date_expr, labelAlign="left", labelOffset=3,
               labelBaseline="top", labelPadding=1, tickSize=4, tickColor=WHITE, domainColor=WHITE,
               labelColor=WHITE, labelFontSize=9.5, labelFont=FONT, labelFlush=False,
               labelOverlap=False, labelBound=False, grid=False, title=None)
sax = yaxis(stoch_ticks, flush=True, expr="datum.value > 50 ? '105' : '-5.00'")


def SX():
    return alt.X("bar:Q", scale=xs, axis=xax, title=None)


def SY():
    return alt.Y("v:Q", scale=ss, axis=sax, title=None)


def sline(bars, vals, color, width):
    return alt.Chart(pd.DataFrame({"bar": bars, "v": vals})).mark_line(
        color=color, strokeWidth=width, clip=True).encode(x=SX(), y=SY())


stoch = alt.layer(
    sline(lu_bar, lu_val, "#0000FF", 3),
    sline(lm_bar, lm_val, "#0000FF", 3),
    sline(ll_bar, ll_val, "#0000FF", 3),
    sline(bu_bar, bu_val, "#7070D8", 1),
    sline(bl_bar, bl_val, "#7070D8", 1),
    sline(sk_bar, sk_val, "#FFFF00", 3),
    sline(sm_bar, sm_val, "#FF00FF", 2.5),
    sline(sg_bar, sg_val, "#33EE99", 2),
    hrule(0.5),
    label("stochRSI 0.0000 12.9069", 4, 10),
    label("0.00", W + 7, HS - 6, size=9.5)
).properties(width=W, height=HS)

chart = alt.vconcat(price, rsi, adx, stoch, spacing=1).properties(
    background="#000000", padding={"left": 0, "right": 0, "top": 0, "bottom": 0}
).configure_view(stroke=None, fill="#000000")

chart.save("out.html", embed_options={"renderer": "svg", "actions": False})
